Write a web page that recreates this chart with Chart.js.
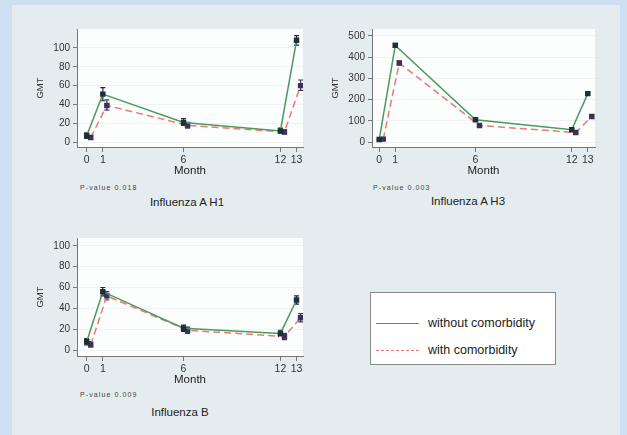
<!DOCTYPE html>
<html>
<head>
<meta charset="utf-8">
<script src="https://cdn.jsdelivr.net/npm/chart.js@4.4.1/dist/chart.umd.min.js"></script>
<style>
  html, body { margin: 0; padding: 0; }
  body { width: 627px; height: 435px; background: #cddff0; position: relative; overflow: hidden;
         font-family: "Liberation Sans", Arial, sans-serif; color: #222; }
  #panel { position: absolute; left: 12px; top: 5px; width: 608px; height: 430px; background: #e5ecef; }
  .plot { position: absolute; }
  .pval { position: absolute; font-size: 7px; letter-spacing: 1.1px; color: #444; }
  .ttl { position: absolute; font-size: 11.5px; color: #222; text-align: center; width: 160px; }
  #legend { position: absolute; left: 370px; top: 292px; width: 184px; height: 71px;
            background: #fff; border: 1px solid #8a8a8a; }
  .lg { position: absolute; left: 5px; height: 14px; font-size: 12.5px; line-height: 14px; white-space: nowrap; color: #222; }
  .lg span.ln { display: inline-block; width: 43px; vertical-align: middle; margin-right: 9px; }
</style>
</head>
<body>
<div id="panel"></div>
<canvas id="h1" class="plot" width="290" height="160" style="left:20px;top:20px;width:290px;height:160px"></canvas>
<canvas id="h3" class="plot" width="290" height="160" style="left:315px;top:20px;width:290px;height:160px"></canvas>
<canvas id="fb" class="plot" width="290" height="160" style="left:20px;top:229px;width:290px;height:160px"></canvas>

<div class="pval" style="left:80px;top:184px">P-value 0.018</div>
<div class="pval" style="left:373px;top:184px">P-value 0.003</div>
<div class="pval" style="left:80px;top:391px">P-value 0.009</div>
<div class="ttl" style="left:107px;top:196px">Influenza A H1</div>
<div class="ttl" style="left:388px;top:195px">Influenza A H3</div>
<div class="ttl" style="left:100px;top:406px">Influenza B</div>

<div id="legend">
  <div class="lg" style="top:23px"><span class="ln" style="border-top:1.5px solid #4a9a5e"></span>without comorbidity</div>
  <div class="lg" style="top:50px"><span class="ln" style="border-top:1.5px dashed #ea7a78"></span>with comorbidity</div>
</div>

<script>
// meses de seguimiento
const months = [0, 1, 6, 12, 13];

// Influenza A H1
const h1Without = [7, 51, 21, 12, 108];
const h1WithoutLow = [4, 44, 18, 10, 103];
const h1WithoutHigh = [10, 58, 25, 15, 113];
const h1With = [5, 39, 18, 11, 60];
const h1WithLow = [3, 34, 15, 9, 55];
const h1WithHigh = [7, 45, 21, 13, 66];
const h1Ticks = [0, 20, 40, 60, 80, 100];

// Influenza A H3
const h3Without = [12, 455, 105, 58, 228];
const h3WithoutLow = [9, 446, 99, 52, 221];
const h3WithoutHigh = [15, 464, 111, 64, 235];
const h3With = [14, 372, 78, 45, 120];
const h3WithLow = [11, 363, 72, 40, 113];
const h3WithHigh = [17, 381, 84, 50, 127];
const h3Ticks = [0, 100, 200, 300, 400, 500];

// Influenza B
const fbWithout = [8, 56, 21, 16, 48];
const fbWithoutLow = [5, 52, 18, 13, 44];
const fbWithoutHigh = [11, 60, 24, 19, 52];
const fbWith = [5, 52, 19, 13, 31];
const fbWithLow = [3, 48, 16, 10, 27];
const fbWithHigh = [8, 56, 22, 16, 35];
const fbTicks = [0, 20, 40, 60, 80, 100];

const JITTER = 0.25; // desplazamiento del grupo con comorbilidad

// fondo blanco del area del grafico
const plotBg = {
  id: 'plotBg',
  beforeDraw(chart) {
    const a = chart.chartArea;
    const ctx = chart.ctx;
    ctx.save();
    ctx.fillStyle = '#fcfdfd';
    ctx.fillRect(a.left, a.top, a.right - a.left, a.bottom - a.top);
    ctx.restore();
  }
};

// barras de error (IC)
const errorBars = {
  id: 'errorBars',
  beforeDatasetsDraw(chart) {
    const ctx = chart.ctx;
    const yScale = chart.scales.y;
    chart.data.datasets.forEach((ds, i) => {
      const meta = chart.getDatasetMeta(i);
      ctx.save();
      ctx.strokeStyle = ds.errColor;
      ctx.lineWidth = 1.2;
      meta.data.forEach((pt, j) => {
        const yl = yScale.getPixelForValue(ds.errLow[j]);
        const yh = yScale.getPixelForValue(ds.errHigh[j]);
        ctx.beginPath();
        ctx.moveTo(pt.x, yl); ctx.lineTo(pt.x, yh);
        ctx.moveTo(pt.x - 2.5, yl); ctx.lineTo(pt.x + 2.5, yl);
        ctx.moveTo(pt.x - 2.5, yh); ctx.lineTo(pt.x + 2.5, yh);
        ctx.stroke();
      });
      ctx.restore();
    });
  }
};

function createPanel(id, without, wLow, wHigh, withC, cLow, cHigh, yTicks, yMin, yMax, xMin, xMax, padRight) {
  const ctx = document.getElementById(id).getContext('2d');
  new Chart(ctx, {
    type: 'line',
    data: {
      datasets: [{
        label: 'without comorbidity',
        data: months.map((m, i) => ({ x: m, y: without[i] })),
        errLow: wLow, errHigh: wHigh, errColor: '#1e2a40',
        borderColor: '#4a9a5e',
        borderWidth: 1.5,
        pointStyle: 'rect',
        pointRadius: 2.8,
        pointBackgroundColor: '#1c3038',
        pointBorderColor: '#1c3038',
        tension: 0
      }, {
        label: 'with comorbidity',
        data: months.map((m, i) => ({ x: m + JITTER, y: withC[i] })),
        errLow: cLow, errHigh: cHigh, errColor: '#3a3a6a',
        borderColor: '#ea7a78',
        borderWidth: 1.5,
        borderDash: [7, 4],
        pointStyle: 'rect',
        pointRadius: 2.8,
        pointBackgroundColor: '#3a3258',
        pointBorderColor: '#3a3258',
        tension: 0
      }]
    },
    options: {
      responsive: false,
      animation: false,
      layout: { autoPadding: false, padding: { top: 7, right: padRight, left: 0, bottom: 0 } },
      plugins: { legend: { display: false }, tooltip: { enabled: false } },
      scales: {
        x: {
          type: 'linear',
          min: xMin,
          max: xMax,
          afterBuildTicks: s => { s.ticks = months.map(v => ({ value: v })); },
          afterFit: s => { s.height = 33; },
          ticks: { font: { size: 10.5, family: 'Liberation Sans' }, color: '#333', padding: 2, maxRotation: 0 },
          grid: { drawOnChartArea: false, tickLength: 5, tickColor: '#777' },
          border: { color: '#777' },
          title: { display: true, text: 'Month', font: { size: 11.5, family: 'Liberation Sans' }, color: '#222', padding: 2 }
        },
        y: {
          min: yMin,
          max: yMax,
          afterBuildTicks: s => { s.ticks = yTicks.map(v => ({ value: v })); },
          afterFit: s => { s.width = 57; },
          ticks: { font: { size: 10, family: 'Liberation Sans' }, color: '#333', padding: 3 },
          grid: { color: '#eef2f3', tickLength: 4, tickColor: '#777' },
          border: { color: '#777' },
          title: { display: true, text: 'GMT', font: { size: 9.5, family: 'Liberation Sans' }, color: '#333', padding: 15 }
        }
      }
    },
    plugins: [plotBg, errorBars]
  });
}

createPanel('h1', h1Without, h1WithoutLow, h1WithoutHigh, h1With, h1WithLow, h1WithHigh, h1Ticks, -5, 120, -0.6, 13.4, 7);
createPanel('h3', h3Without, h3WithoutLow, h3WithoutHigh, h3With, h3WithLow, h3WithHigh, h3Ticks, -23, 532, -0.45, 13.45, 10);
createPanel('fb', fbWithout, fbWithoutLow, fbWithoutHigh, fbWith, fbWithLow, fbWithHigh, fbTicks, -5.7, 107.5, -0.6, 13.4, 7);
</script>
</body>
</html>
